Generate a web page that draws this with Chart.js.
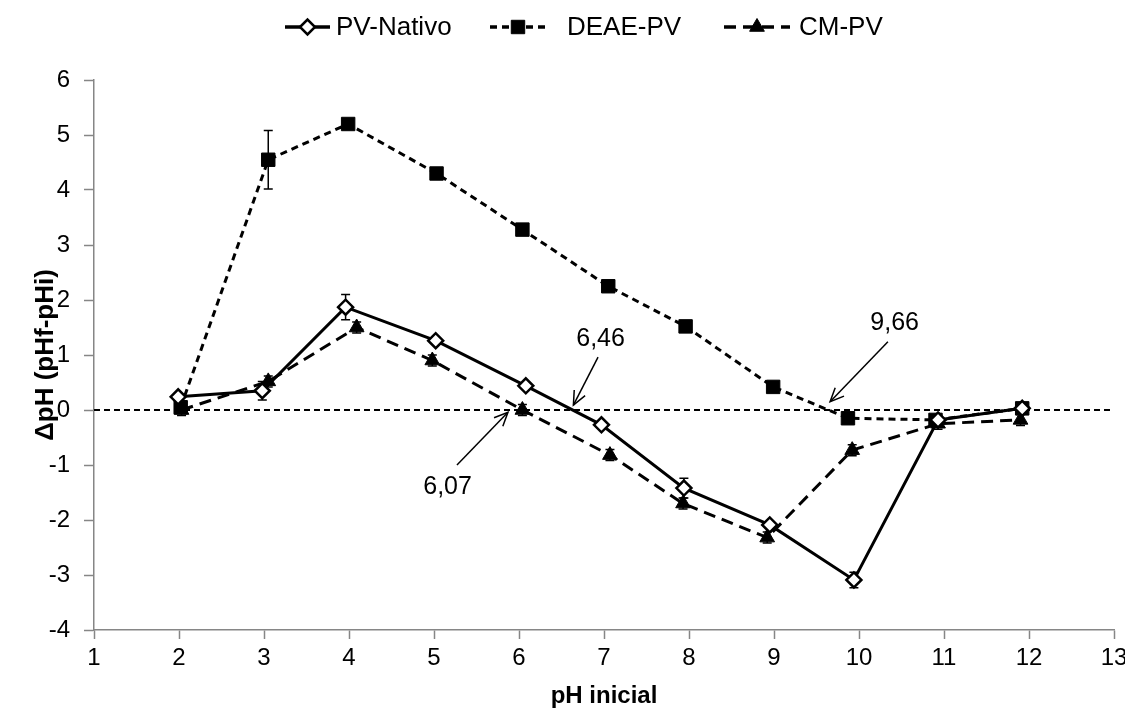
<!DOCTYPE html>
<html><head><meta charset="utf-8">
<script src="https://cdn.jsdelivr.net/npm/chart.js@4.4.1/dist/chart.umd.min.js"></script>
<style>html,body{margin:0;padding:0;background:#fff;}#wrap{width:1125px;height:715px;position:relative;}</style>
</head><body><div id="wrap"><canvas id="c"></canvas></div>
<script>
// ---- data ----
const seriesNames = ['PV-Nativo', 'DEAE-PV', 'CM-PV'];
const pvNativoX   = [1.99, 2.98, 3.96, 5.02, 6.08, 6.97, 7.94, 8.95, 9.94, 10.93, 11.92];
const pvNativoY   = [0.24, 0.35, 1.87, 1.26, 0.44, -0.27, -1.42, -2.09, -3.09, -0.18, 0.03];
const pvNativoErr = [0.05, 0.17, 0.23, 0.05, 0.05, 0.05, 0.18, 0.06, 0.14, 0.05, 0.04];
const deaeX   = [2.02, 3.05, 3.99, 5.03, 6.04, 7.05, 7.96, 8.99, 9.87, 10.90, 11.92];
const deaeY   = [0.05, 4.55, 5.20, 4.30, 3.28, 2.25, 1.52, 0.42, -0.15, -0.18, 0.03];
const deaeErr = [0.05, 0.53, 0.08, 0.06, 0.06, 0.06, 0.06, 0.06, 0.06, 0.05, 0.05];
const cmX   = [2.03, 3.05, 4.09, 4.98, 6.04, 7.07, 7.93, 8.92, 9.92, 10.93, 11.90];
const cmY   = [0.00, 0.52, 1.50, 0.90, 0.00, -0.82, -1.70, -2.32, -0.73, -0.25, -0.18];
const cmErr = [0.10, 0.10, 0.10, 0.10, 0.10, 0.10, 0.10, 0.10, 0.10, 0.10, 0.10];
const xTickValues = [1, 2, 3, 4, 5, 6, 7, 8, 9, 10, 11, 12, 13];
const yTickValues = [-4, -3, -2, -1, 0, 1, 2, 3, 4, 5, 6];
const xTitle = 'pH inicial';
const yTitle = '\u0394pH (pHf-pHi)';
// annotation texts with label / arrow positions in data units
const noteLabels = ['6,46', '6,07', '9,66'];
const noteTextPos = [[6.96, 1.29], [5.16, -1.40], [10.42, 1.58]];
const noteArrowFrom = [[6.93, 0.96], [5.27, -1.00], [10.34, 1.24]];
const noteArrowTo = [[6.64, 0.09], [5.87, -0.04], [9.66, 0.15]];

// ---- styles ----
const FONT = "'Liberation Sans', Arial, sans-serif";
const AXIS_GRAY = '#868686';
const styles = [
  {dash: [], width: 3, lw: 3.5, pointStyle: 'rectRot', radius: 7.5, fill: '#ffffff', pbw: 2.5},
  {dash: [7, 5], width: 3, lw: 3.5, pointStyle: 'rect', radius: 9.5, fill: '#000000', pbw: 1},
  {dash: [12, 7], width: 3, lw: 3.5, pointStyle: 'triangle', radius: 8.5, fill: '#000000', pbw: 1}
];
const legendLayout = [{x0: 285, x1: 330, tx: 336}, {x0: 490, x1: 546, tx: 567}, {x0: 724, x1: 790, tx: 799}];

function toPts(xs, ys) { return xs.map((x, i) => ({x: x, y: ys[i]})); }
const errs = [pvNativoErr, deaeErr, cmErr];
const pts = [toPts(pvNativoX, pvNativoY), toPts(deaeX, deaeY), toPts(cmX, cmY)];

const datasets = pts.map((d, i) => ({
  label: seriesNames[i],
  data: d,
  borderColor: '#000',
  borderWidth: styles[i].width,
  borderDash: styles[i].dash,
  pointStyle: styles[i].pointStyle,
  pointRadius: styles[i].radius,
  pointHoverRadius: styles[i].radius,
  pointBackgroundColor: styles[i].fill,
  pointBorderColor: '#000',
  pointBorderWidth: styles[i].pbw,
  tension: 0,
  fill: false
}));
datasets[0].order = 1; datasets[1].order = 2; datasets[2].order = 3;

const zeroLinePlugin = {
  id: 'zeroLine',
  beforeDatasetsDraw(chart) {
    const {ctx, chartArea, scales} = chart;
    const y = scales.y.getPixelForValue(0);
    ctx.save();
    ctx.strokeStyle = '#000'; ctx.lineWidth = 2; ctx.setLineDash([6, 4]);
    ctx.beginPath(); ctx.moveTo(chartArea.left, y); ctx.lineTo(chartArea.right, y); ctx.stroke();
    ctx.restore();
  }
};

const errorBarPlugin = {
  id: 'errorBars',
  beforeDatasetsDraw(chart) {
    const {ctx, scales} = chart;
    ctx.save();
    ctx.strokeStyle = '#000'; ctx.lineWidth = 1.5; ctx.setLineDash([]);
    chart.data.datasets.forEach((ds, di) => {
      const meta = chart.getDatasetMeta(di);
      ds.data.forEach((p, i) => {
        const e = errs[di][i];
        const x = meta.data[i].x;
        const yT = scales.y.getPixelForValue(p.y + e);
        const yB = scales.y.getPixelForValue(p.y - e);
        ctx.beginPath();
        ctx.moveTo(x, yT); ctx.lineTo(x, yB);
        ctx.moveTo(x - 4.5, yT); ctx.lineTo(x + 4.5, yT);
        ctx.moveTo(x - 4.5, yB); ctx.lineTo(x + 4.5, yB);
        ctx.stroke();
      });
    });
    ctx.restore();
  }
};

const annotationPlugin = {
  id: 'notes',
  afterDatasetsDraw(chart) {
    const {ctx, scales} = chart;
    const X = v => scales.x.getPixelForValue(v), Y = v => scales.y.getPixelForValue(v);
    ctx.save();
    ctx.fillStyle = '#000'; ctx.strokeStyle = '#000'; ctx.lineWidth = 1.5; ctx.setLineDash([]);
    ctx.font = '25px ' + FONT; ctx.textAlign = 'center'; ctx.textBaseline = 'middle';
    noteLabels.forEach((t, i) => {
      ctx.fillText(t, X(noteTextPos[i][0]), Y(noteTextPos[i][1]));
      const x0 = X(noteArrowFrom[i][0]), y0 = Y(noteArrowFrom[i][1]);
      const x1 = X(noteArrowTo[i][0]), y1 = Y(noteArrowTo[i][1]);
      ctx.beginPath(); ctx.moveTo(x0, y0); ctx.lineTo(x1, y1); ctx.stroke();
      const a = Math.atan2(y1 - y0, x1 - x0), L = 15, w = 0.42;
      ctx.beginPath();
      ctx.moveTo(x1 - L * Math.cos(a - w), y1 - L * Math.sin(a - w));
      ctx.lineTo(x1, y1);
      ctx.lineTo(x1 - L * Math.cos(a + w), y1 - L * Math.sin(a + w));
      ctx.stroke();
    });
    ctx.restore();
  }
};

const legendPlugin = {
  id: 'lineLegend',
  afterDraw(chart) {
    const {ctx} = chart;
    const cy = 27;
    ctx.save();
    ctx.font = '26px ' + FONT; ctx.textBaseline = 'middle'; ctx.textAlign = 'left'; ctx.fillStyle = '#000';
    chart.data.datasets.forEach((ds, i) => {
      const L = legendLayout[i], s = styles[i];
      ctx.strokeStyle = '#000'; ctx.lineWidth = s.lw; ctx.setLineDash(s.dash);
      ctx.beginPath(); ctx.moveTo(L.x0, cy); ctx.lineTo(L.x1, cy); ctx.stroke();
      ctx.setLineDash([]);
      ctx.fillStyle = s.fill; ctx.strokeStyle = '#000'; ctx.lineWidth = s.pbw;
      Chart.helpers.drawPoint(ctx, {pointStyle: s.pointStyle, radius: s.radius, borderWidth: s.pbw, rotation: 0}, (L.x0 + L.x1) / 2, cy);
      ctx.fillStyle = '#000';
      ctx.fillText(ds.label, L.tx, cy + 1);
    });
    ctx.restore();
  }
};

const tickFont = {family: FONT, size: 24};
const titleFont = {family: FONT, size: 24, weight: 'bold'};

new Chart(document.getElementById('c'), {
  type: 'line',
  data: {datasets: datasets},
  options: {
    responsive: true, maintainAspectRatio: false, animation: false,
    layout: {padding: {top: 80, left: 0, right: 11, bottom: 0}},
    plugins: {legend: {display: false}, tooltip: {enabled: false}},
    scales: {
      x: {
        type: 'linear', min: 1, max: 13,
        afterBuildTicks: s => { s.ticks = xTickValues.map(v => ({value: v})); },
        afterFit: s => { s.height = 85; s.paddingLeft = 0; s.paddingRight = 0; },
        ticks: {font: tickFont, color: '#000', padding: 5, maxRotation: 0, autoSkip: false},
        grid: {drawOnChartArea: false, drawTicks: true, tickLength: 9, tickColor: AXIS_GRAY, tickWidth: 1.5},
        border: {color: AXIS_GRAY, width: 1.5},
        title: {display: true, text: xTitle, font: titleFont, color: '#000', padding: {top: 0, bottom: 4}}
      },
      y: {
        type: 'linear', min: -4, max: 6,
        afterBuildTicks: s => { s.ticks = yTickValues.map(v => ({value: v})); },
        afterFit: s => { s.width = 94; s.paddingTop = 0; s.paddingBottom = 0; },
        ticks: {font: tickFont, color: '#000', padding: 14, autoSkip: false},
        grid: {drawOnChartArea: false, drawTicks: true, tickLength: 10, tickColor: AXIS_GRAY, tickWidth: 1.5},
        border: {color: AXIS_GRAY, width: 1.5},
        title: {display: true, text: yTitle, font: {family: FONT, size: 26, weight: 'bold'}, color: '#000', padding: {top: 30, bottom: 0}}
      }
    }
  },
  plugins: [zeroLinePlugin, errorBarPlugin, annotationPlugin, legendPlugin]
});
</script></body></html>
